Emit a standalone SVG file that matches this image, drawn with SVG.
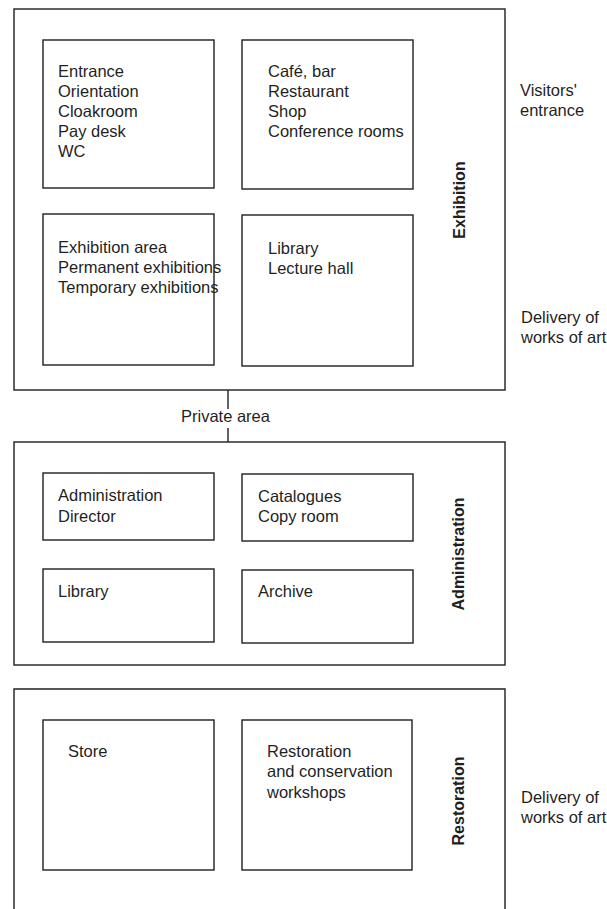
<svg xmlns="http://www.w3.org/2000/svg" width="607" height="909" viewBox="0 0 607 909">
<style>
.box{fill:none;stroke:#1f1f1f;stroke-width:1.4}
.t{font-family:"Liberation Sans",Arial,sans-serif;font-size:16.5px;fill:#1f1f1f}
.v{font-family:"Liberation Sans",Arial,sans-serif;font-size:16px;font-weight:bold;fill:#1f1f1f;text-anchor:middle}
.c{fill:none;stroke:#1f1f1f;stroke-width:1.4}
</style>
<rect width="607" height="909" fill="#fff"/>
<g id="exhibition">
  <rect class="box" x="14" y="9" width="491" height="381"/>
  <text class="v" transform="translate(465,200) rotate(-90)">Exhibition</text>
</g>
<g id="entrance-box">
  <rect class="box" x="43" y="40" width="171" height="148"/>
  <text class="t" x="58" y="77">Entrance</text>
  <text class="t" x="58" y="97">Orientation</text>
  <text class="t" x="58" y="117">Cloakroom</text>
  <text class="t" x="58" y="137">Pay desk</text>
  <text class="t" x="58" y="157">WC</text>
</g>
<g id="cafe-box">
  <rect class="box" x="242" y="40" width="171" height="149"/>
  <text class="t" x="268" y="77">Café, bar</text>
  <text class="t" x="268" y="97">Restaurant</text>
  <text class="t" x="268" y="117">Shop</text>
  <text class="t" x="268" y="137">Conference rooms</text>
</g>
<g id="exhibition-area-box">
  <text class="t" x="58" y="253">Exhibition area</text>
  <text class="t" x="58" y="273">Permanent exhibitions</text>
  <text class="t" x="58" y="293">Temporary exhibitions</text>
  <rect class="box" x="43" y="214" width="171" height="151"/>
</g>
<g id="library-box">
  <rect class="box" x="242" y="215" width="171" height="151"/>
  <text class="t" x="268" y="254">Library</text>
  <text class="t" x="268" y="274">Lecture hall</text>
</g>
<g id="visitors-entrance">
  <text class="t" x="520" y="96">Visitors'</text>
  <text class="t" x="520" y="116">entrance</text>
</g>
<g id="delivery-1">
  <text class="t" x="521" y="323">Delivery of</text>
  <text class="t" x="521" y="343">works of art</text>
</g>
<g id="connectors">
  <line class="c" x1="228" y1="390" x2="228" y2="409"/>
  <line class="c" x1="228" y1="428" x2="228" y2="442"/>
</g>
<g id="private-area">
  <text class="t" x="181" y="422">Private area</text>
</g>
<g id="administration">
  <rect class="box" x="14" y="442" width="491" height="223"/>
  <text class="v" transform="translate(464,554) rotate(-90)">Administration</text>
</g>
<g id="admin-box">
  <rect class="box" x="43" y="473" width="171" height="67"/>
  <text class="t" x="58" y="501">Administration</text>
  <text class="t" x="58" y="522">Director</text>
</g>
<g id="catalogues-box">
  <rect class="box" x="242" y="474" width="171" height="67"/>
  <text class="t" x="258" y="502">Catalogues</text>
  <text class="t" x="258" y="522">Copy room</text>
</g>
<g id="admin-library-box">
  <rect class="box" x="43" y="569" width="171" height="73"/>
  <text class="t" x="58" y="597">Library</text>
</g>
<g id="archive-box">
  <rect class="box" x="242" y="570" width="171" height="73"/>
  <text class="t" x="258" y="597">Archive</text>
</g>
<g id="restoration">
  <path class="box" d="M14,909 V689 H505 V909"/>
  <text class="v" transform="translate(464,801) rotate(-90)">Restoration</text>
</g>
<g id="store-box">
  <rect class="box" x="43" y="720" width="171" height="150"/>
  <text class="t" x="68" y="757">Store</text>
</g>
<g id="workshops-box">
  <rect class="box" x="242" y="720" width="170" height="150"/>
  <text class="t" x="267" y="757">Restoration</text>
  <text class="t" x="267" y="777">and conservation</text>
  <text class="t" x="267" y="798">workshops</text>
</g>
<g id="delivery-2">
  <text class="t" x="521" y="803">Delivery of</text>
  <text class="t" x="521" y="823">works of art</text>
</g>
</svg>
